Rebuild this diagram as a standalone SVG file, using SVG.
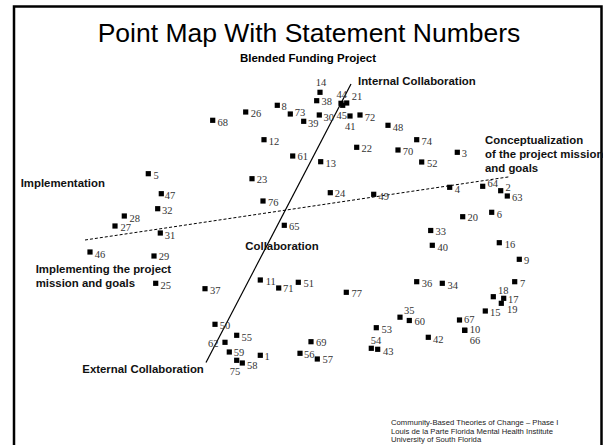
<svg xmlns="http://www.w3.org/2000/svg" width="603" height="445" viewBox="0 0 603 445">
  <style>
    .frame { fill: none; stroke: #000; stroke-width: 2.5; }
    .title { font-family: "Liberation Sans", Arial, sans-serif; font-size: 26.5px; fill: #000; text-anchor: middle; }
    .sub { font-family: "Liberation Sans", Arial, sans-serif; font-size: 11.5px; font-weight: bold; fill: #000; text-anchor: middle; }
    .lab { font-family: "Liberation Sans", Arial, sans-serif; font-size: 11.4px; font-weight: bold; fill: #111; }
    .pt rect { fill: #000; }
    .pt text { font-family: "Liberation Serif", "Times New Roman", serif; font-size: 10.5px; fill: #333; text-anchor: middle; }
    .foot { font-family: "Liberation Sans", Arial, sans-serif; font-size: 7.7px; fill: #222; }
    .solid { stroke: #000; stroke-width: 1.2; fill: none; }
    .dash { stroke: #000; stroke-width: 1; stroke-dasharray: 3 2; fill: none; }
  </style>
  <defs>
    <rect id="sq" x="-2.6" y="-2.6" width="5.2" height="5.2"/>
  </defs>

  <rect width="603" height="445" fill="#fff"/>
  <path class="frame" d="M14,446 V6.5 H601.5 V446"/>

  <text class="title" x="309" y="42">Point Map With Statement Numbers</text>
  <text class="sub" x="308" y="62">Blended Funding Project</text>

  <!-- cluster divider lines -->
  <g id="connectors">
    <line class="solid" x1="351" y1="84" x2="206" y2="362.5"/>
    <line class="dash" x1="85" y1="240" x2="510" y2="176.7"/>
  </g>

  <!-- cluster names -->
  <g id="cluster-labels">
    <text class="lab" x="358" y="85">Internal Collaboration</text>
    <text class="lab" x="485" y="144">Conceptualization</text>
    <text class="lab" x="485" y="158">of the project mission</text>
    <text class="lab" x="485" y="172">and goals</text>
    <text class="lab" x="20.7" y="187">Implementation</text>
    <text class="lab" x="35.7" y="273">Implementing the project</text>
    <text class="lab" x="35.7" y="286.7">mission and goals</text>
    <text class="lab" x="245.3" y="250">Collaboration</text>
    <text class="lab" x="82.3" y="373">External Collaboration</text>
  </g>

  <!-- statement points: square marker + statement number -->
  <g id="p1" class="pt"><use href="#sq" x="260.3" y="355.3"/><text x="267" y="360.2">1</text></g>
  <g id="p2" class="pt"><use href="#sq" x="500.7" y="190.7"/><text x="508" y="190.8">2</text></g>
  <g id="p3" class="pt"><use href="#sq" x="457.3" y="152.3"/><text x="464.3" y="156.8">3</text></g>
  <g id="p4" class="pt"><use href="#sq" x="449.7" y="187.3"/><text x="457.3" y="192.5">4</text></g>
  <g id="p5" class="pt"><use href="#sq" x="148.3" y="173.7"/><text x="156" y="178.5">5</text></g>
  <g id="p6" class="pt"><use href="#sq" x="491.7" y="212.3"/><text x="499.3" y="217.8">6</text></g>
  <g id="p7" class="pt"><use href="#sq" x="514.7" y="281.7"/><text x="522.7" y="286.8">7</text></g>
  <g id="p8" class="pt"><use href="#sq" x="277.3" y="105.3"/><text x="284" y="109.5">8</text></g>
  <g id="p9" class="pt"><use href="#sq" x="519.3" y="259.3"/><text x="526.7" y="263.8">9</text></g>
  <g id="p10" class="pt"><use href="#sq" x="464.7" y="330.3"/><text x="475" y="332.7">10</text></g>
  <g id="p11" class="pt"><use href="#sq" x="260.3" y="280"/><text x="270.7" y="284.5">11</text></g>
  <g id="p12" class="pt"><use href="#sq" x="264" y="139.7"/><text x="274" y="144.8">12</text></g>
  <g id="p13" class="pt"><use href="#sq" x="320.7" y="161.7"/><text x="330.7" y="167.2">13</text></g>
  <g id="p14" class="pt"><use href="#sq" x="320" y="92.3"/><text x="321" y="86.2">14</text></g>
  <g id="p15" class="pt"><use href="#sq" x="485.3" y="311"/><text x="495.3" y="315.8">15</text></g>
  <g id="p16" class="pt"><use href="#sq" x="499.3" y="242.7"/><text x="510" y="247.5">16</text></g>
  <g id="p17" class="pt"><use href="#sq" x="503.7" y="298.3"/><text x="513.3" y="303.2">17</text></g>
  <g id="p18" class="pt"><use href="#sq" x="493.3" y="296.7"/><text x="503.3" y="293.8">18</text></g>
  <g id="p19" class="pt"><use href="#sq" x="501.3" y="303.3"/><text x="512.3" y="312.8">19</text></g>
  <g id="p20" class="pt"><use href="#sq" x="462.7" y="216.7"/><text x="472.7" y="220.8">20</text></g>
  <g id="p21" class="pt"><use href="#sq" x="346.7" y="103"/><text x="357" y="99.5">21</text></g>
  <g id="p22" class="pt"><use href="#sq" x="356.7" y="147.3"/><text x="366.7" y="152.2">22</text></g>
  <g id="p23" class="pt"><use href="#sq" x="252" y="178.7"/><text x="262" y="183.2">23</text></g>
  <g id="p24" class="pt"><use href="#sq" x="330.3" y="192.7"/><text x="340" y="197.2">24</text></g>
  <g id="p25" class="pt"><use href="#sq" x="155.7" y="283.3"/><text x="165.7" y="289.2">25</text></g>
  <g id="p26" class="pt"><use href="#sq" x="245.7" y="112"/><text x="256" y="117.2">26</text></g>
  <g id="p27" class="pt"><use href="#sq" x="115" y="226"/><text x="125.7" y="231.2">27</text></g>
  <g id="p28" class="pt"><use href="#sq" x="124.3" y="216"/><text x="134.7" y="221.5">28</text></g>
  <g id="p29" class="pt"><use href="#sq" x="154" y="256"/><text x="164" y="260.2">29</text></g>
  <g id="p30" class="pt"><use href="#sq" x="319.3" y="115"/><text x="328.7" y="121.2">30</text></g>
  <g id="p31" class="pt"><use href="#sq" x="160.3" y="233"/><text x="170" y="238.8">31</text></g>
  <g id="p32" class="pt"><use href="#sq" x="157.7" y="208.7"/><text x="167.3" y="214.2">32</text></g>
  <g id="p33" class="pt"><use href="#sq" x="430.7" y="230.5"/><text x="440.7" y="234.8">33</text></g>
  <g id="p34" class="pt"><use href="#sq" x="442.3" y="283.3"/><text x="452.7" y="288.8">34</text></g>
  <g id="p35" class="pt"><use href="#sq" x="400" y="317.2"/><text x="409.3" y="313.5">35</text></g>
  <g id="p36" class="pt"><use href="#sq" x="416.7" y="281.7"/><text x="427" y="287.2">36</text></g>
  <g id="p37" class="pt"><use href="#sq" x="205" y="288.7"/><text x="215.3" y="294.2">37</text></g>
  <g id="p38" class="pt"><use href="#sq" x="316.7" y="100.7"/><text x="326.7" y="105.2">38</text></g>
  <g id="p39" class="pt"><use href="#sq" x="303.7" y="121.3"/><text x="313.3" y="126.8">39</text></g>
  <g id="p40" class="pt"><use href="#sq" x="432.3" y="245.3"/><text x="442.7" y="250.8">40</text></g>
  <g id="p41" class="pt"><use href="#sq" x="350" y="116"/><text x="350.3" y="129.5">41</text></g>
  <g id="p42" class="pt"><use href="#sq" x="428.3" y="337.3"/><text x="438.3" y="342.5">42</text></g>
  <g id="p43" class="pt"><use href="#sq" x="377.7" y="349.3"/><text x="388.3" y="354.8">43</text></g>
  <g id="p44" class="pt"><use href="#sq" x="341" y="103.3"/><text x="341.7" y="97.5">44</text></g>
  <g id="p45" class="pt"><use href="#sq" x="342.7" y="105.3"/><text x="341.7" y="118.5">45</text></g>
  <g id="p46" class="pt"><use href="#sq" x="90" y="252"/><text x="100" y="258.2">46</text></g>
  <g id="p47" class="pt"><use href="#sq" x="161.3" y="193.7"/><text x="170" y="198.8">47</text></g>
  <g id="p48" class="pt"><use href="#sq" x="388" y="125.3"/><text x="398" y="130.8">48</text></g>
  <g id="p49" class="pt"><use href="#sq" x="373.7" y="194.3"/><text x="383.7" y="199.5">49</text></g>
  <g id="p50" class="pt"><use href="#sq" x="215" y="324.3"/><text x="225" y="329.2">50</text></g>
  <g id="p51" class="pt"><use href="#sq" x="298.3" y="282.3"/><text x="308.7" y="287.2">51</text></g>
  <g id="p52" class="pt"><use href="#sq" x="421.7" y="162"/><text x="432.3" y="167.2">52</text></g>
  <g id="p53" class="pt"><use href="#sq" x="376.3" y="327.7"/><text x="386.7" y="332.5">53</text></g>
  <g id="p54" class="pt"><use href="#sq" x="371.3" y="348.3"/><text x="376" y="343.5">54</text></g>
  <g id="p55" class="pt"><use href="#sq" x="236.7" y="335.3"/><text x="246.7" y="341.2">55</text></g>
  <g id="p56" class="pt"><use href="#sq" x="300" y="353.3"/><text x="309.3" y="357.8">56</text></g>
  <g id="p57" class="pt"><use href="#sq" x="317.3" y="359"/><text x="327.7" y="363.2">57</text></g>
  <g id="p58" class="pt"><use href="#sq" x="242.3" y="363"/><text x="252.3" y="368.8">58</text></g>
  <g id="p59" class="pt"><use href="#sq" x="229.3" y="352"/><text x="239" y="356.2">59</text></g>
  <g id="p60" class="pt"><use href="#sq" x="409.3" y="320.5"/><text x="419.7" y="324.8">60</text></g>
  <g id="p61" class="pt"><use href="#sq" x="292.7" y="156"/><text x="302.7" y="160.2">61</text></g>
  <g id="p62" class="pt"><use href="#sq" x="225" y="342.3"/><text x="213.3" y="346.8">62</text></g>
  <g id="p63" class="pt"><use href="#sq" x="507.3" y="196"/><text x="517.3" y="200.8">63</text></g>
  <g id="p64" class="pt"><use href="#sq" x="482.7" y="186.3"/><text x="492.7" y="186.5">64</text></g>
  <g id="p65" class="pt"><use href="#sq" x="284.3" y="225.3"/><text x="294.3" y="230.2">65</text></g>
  <g id="p66" class="pt"><use href="#sq" x="464.7" y="330.3"/><text x="475" y="343.6">66</text></g>
  <g id="p67" class="pt"><use href="#sq" x="459.5" y="320"/><text x="469.3" y="322.8">67</text></g>
  <g id="p68" class="pt"><use href="#sq" x="212.7" y="120.3"/><text x="222.7" y="126.2">68</text></g>
  <g id="p69" class="pt"><use href="#sq" x="311" y="341.7"/><text x="321.3" y="346.2">69</text></g>
  <g id="p70" class="pt"><use href="#sq" x="398" y="150"/><text x="408" y="154.5">70</text></g>
  <g id="p71" class="pt"><use href="#sq" x="278.7" y="288"/><text x="288.3" y="292.2">71</text></g>
  <g id="p72" class="pt"><use href="#sq" x="360" y="115"/><text x="370" y="120.8">72</text></g>
  <g id="p73" class="pt"><use href="#sq" x="290.3" y="114"/><text x="300" y="115.8">73</text></g>
  <g id="p74" class="pt"><use href="#sq" x="416.7" y="139.7"/><text x="426.7" y="145.2">74</text></g>
  <g id="p75" class="pt"><use href="#sq" x="236.7" y="360.3"/><text x="235" y="375.2">75</text></g>
  <g id="p76" class="pt"><use href="#sq" x="263" y="201"/><text x="273.3" y="206.2">76</text></g>
  <g id="p77" class="pt"><use href="#sq" x="346.3" y="292.3"/><text x="356.7" y="296.8">77</text></g>

  <!-- credits -->
  <g id="credits">
    <text class="foot" x="391" y="425">Community-Based Theories of Change – Phase I</text>
    <text class="foot" x="391" y="433.7">Louis de la Parte Florida Mental Health Institute</text>
    <text class="foot" x="391" y="442.4">University of South Florida</text>
  </g>
</svg>
